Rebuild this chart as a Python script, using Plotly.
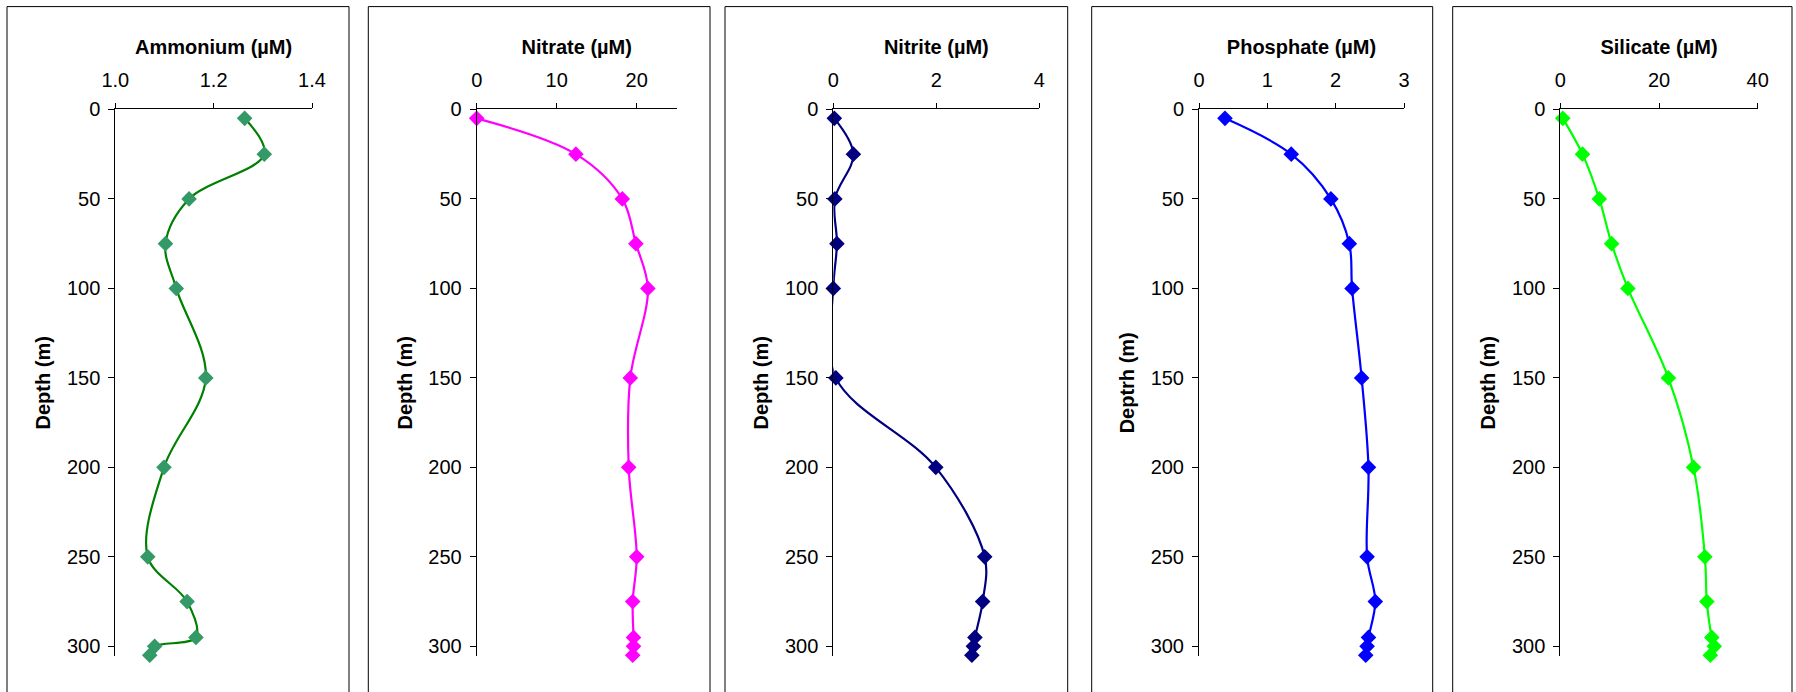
import plotly.graph_objects as go

# ---------------- data ----------------
depth = [5, 25, 50, 75, 100, 150, 200, 250, 275, 295, 300, 305]
ammonium = [1.263, 1.303, 1.150, 1.102, 1.124, 1.184, 1.099, 1.066, 1.146, 1.164, 1.080, 1.070]
nitrate = [0.0, 12.4, 18.2, 19.9, 21.4, 19.2, 19.0, 20.0, 19.5, 19.6, 19.6, 19.5]
nitrite = [0.02, 0.39, 0.03, 0.07, 0.0, 0.05, 1.99, 2.94, 2.90, 2.75, 2.72, 2.69]
phosphate = [0.38, 1.35, 1.93, 2.20, 2.24, 2.38, 2.48, 2.46, 2.58, 2.48, 2.46, 2.44]
silicate = [0.5, 4.5, 7.9, 10.4, 13.7, 21.9, 27.0, 29.3, 29.7, 30.7, 31.2, 30.4]

x_titles = ["Ammonium (µM)", "Nitrate (µM)", "Nitrite (µM)", "Phosphate (µM)", "Silicate (µM)"]
y_titles = ["Depth (m)", "Depth (m)", "Depth (m)", "Deptrh (m)", "Depth (m)"]
x_ranges = [[1.0, 1.4], [0, 25], [0, 4], [0, 3], [0, 40]]
x_ticks = [[1.0, 1.2, 1.4], [0, 10, 20], [0, 2, 4], [0, 1, 2, 3], [0, 20, 40]]
x_ticklabels = [["1.0", "1.2", "1.4"], ["0", "10", "20"], ["0", "2", "4"], ["0", "1", "2", "3"], ["0", "20", "40"]]
y_ticks = [0, 50, 100, 150, 200, 250, 300]
depth_range = [305.5, 0]

series = [ammonium, nitrate, nitrite, phosphate, silicate]
line_colors = ["#008000", "#FF00FF", "#000080", "#0000FF", "#00FF00"]
marker_colors = ["#339966", "#FF00FF", "#000080", "#0000FF", "#00FF00"]

# ---------------- layout geometry (pixels) ----------------
W, H = 1796, 692
plot_x = [(115.3, 312.0), (476.7, 676.7), (833.3, 1039.3), (1199.0, 1404.0), (1560.3, 1757.7)]
plot_top, plot_bottom = 109.4, 656.2
frames = [(7, 349), (368.3, 710), (725, 1067.7), (1091.7, 1432.7), (1452.7, 1792)]
frame_top = 6.6

FONT = "Arial, Liberation Sans, sans-serif"
FS = 20

fig = go.Figure()
layout = dict(
    width=W, height=H,
    margin=dict(l=0, r=0, t=0, b=0, autoexpand=False),
    paper_bgcolor="white", plot_bgcolor="white",
    showlegend=False,
    font=dict(family=FONT, size=FS, color="black"),
    shapes=[],
)

for i in range(5):
    n = i + 1
    xa = "x" if n == 1 else f"x{n}"
    ya = "y" if n == 1 else f"y{n}"
    fig.add_trace(go.Scatter(
        x=series[i], y=depth, xaxis=xa, yaxis=ya,
        mode="lines+markers",
        line=dict(color=line_colors[i], width=2.2, shape="spline", smoothing=1.0),
        marker=dict(symbol="diamond", size=12, color=marker_colors[i],
                    line=dict(width=0)),
        cliponaxis=False,
        name=x_titles[i],
    ))
    x0, x1 = plot_x[i]
    layout[f"xaxis{'' if n == 1 else n}"] = dict(
        domain=[x0 / W, x1 / W], anchor=ya, side="top", automargin=False,
        range=x_ranges[i], tickmode="array", tickvals=x_ticks[i], ticktext=x_ticklabels[i],
        showgrid=False, zeroline=False, showline=True, linecolor="black", linewidth=1,
        ticks="outside", ticklen=5, tickcolor="black", tickwidth=1,
        ticklabelstandoff=8,
        tickfont=dict(family=FONT, size=FS, color="black"),
        title=dict(text=x_titles[i], standoff=9,
                   font=dict(family=FONT, size=FS, color="black", weight="bold")),
        fixedrange=True,
    )
    layout[f"yaxis{'' if n == 1 else n}"] = dict(
        domain=[1 - plot_bottom / H, 1 - plot_top / H], anchor=xa, automargin=False,
        range=depth_range, tickmode="array", tickvals=y_ticks,
        showgrid=False, zeroline=False, showline=True, linecolor="black", linewidth=1,
        ticks="outside", ticklen=6, tickcolor="black", tickwidth=1,
        ticklabelstandoff=4,
        tickfont=dict(family=FONT, size=FS, color="black"),
        title=dict(text=y_titles[i], standoff=10,
                   font=dict(family=FONT, size=FS, color="black", weight="bold")),
        fixedrange=True,
    )
    fx0, fx1 = frames[i]
    layout["shapes"].append(dict(
        type="rect", xref="paper", yref="paper",
        x0=fx0 / W, x1=fx1 / W, y0=-0.05, y1=1 - frame_top / H,
        line=dict(color="black", width=1), fillcolor="rgba(0,0,0,0)", layer="below",
    ))

fig.update_layout(**layout)
fig.write_html("out.html", config={"displayModeBar": False},
               post_script="document.body.style.margin='0';")
